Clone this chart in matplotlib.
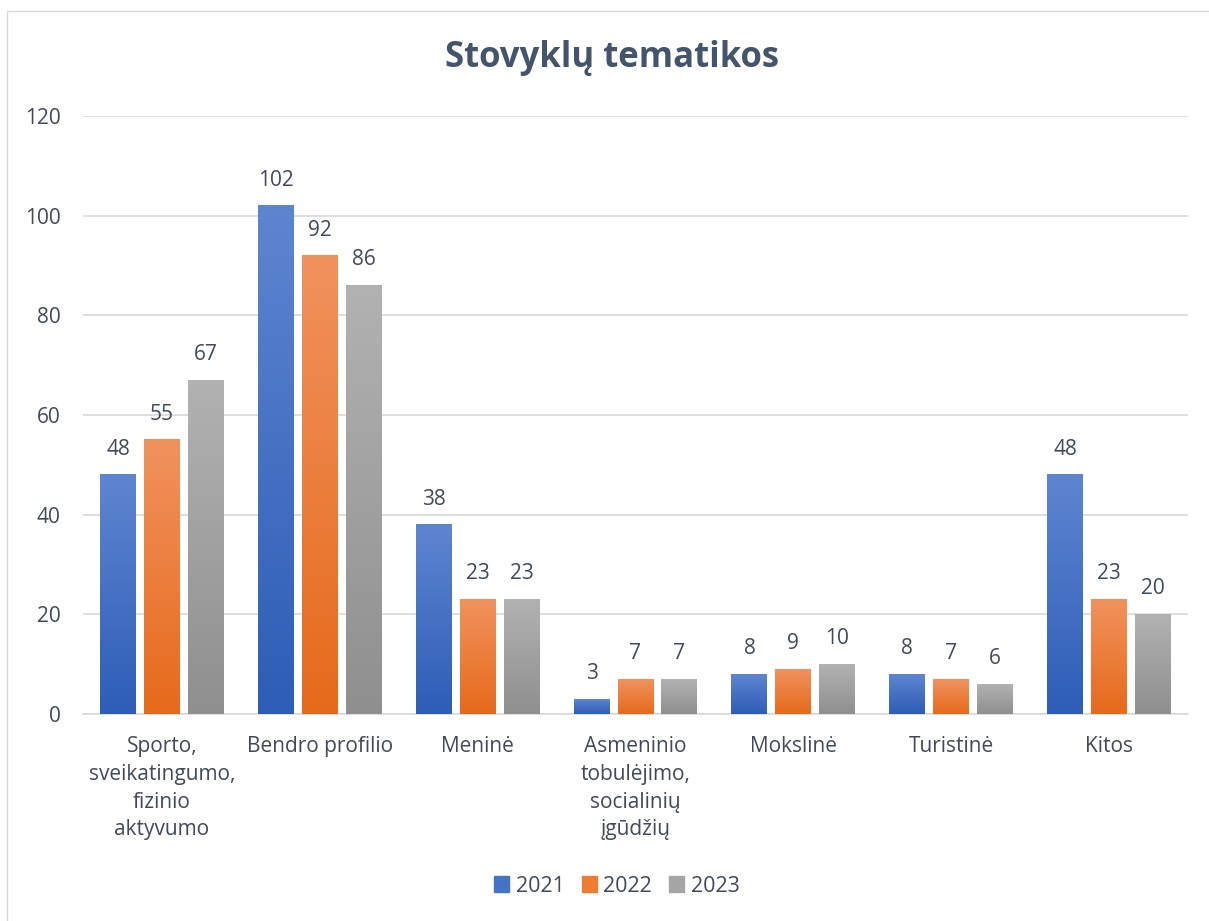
import numpy as np
import matplotlib
matplotlib.use("Agg")
import matplotlib.pyplot as plt
from matplotlib.colors import LinearSegmentedColormap
from matplotlib.patches import Rectangle

categories = ["Sporto,\nsveikatingumo,\nfizinio\naktyvumo", "Bendro profilio", "Meninė",
              "Asmeninio\ntobulėjimo,\nsocialinių\nįgūdžių", "Mokslinė", "Turistinė", "Kitos"]
years = ["2021", "2022", "2023"]
v2021 = [48, 102, 38, 3, 8, 8, 48]
v2022 = [55, 92, 23, 7, 9, 7, 23]
v2023 = [67, 86, 23, 7, 10, 6, 20]
series = [v2021, v2022, v2023]
yticks = [0, 20, 40, 60, 80, 100, 120]

tops = ["#5E85D0", "#F1925E", "#B2B2B2"]
bottoms = ["#2D5DB7", "#E66A1B", "#8F8F8F"]
mids = ["#4472C4", "#ED7D31", "#A5A5A5"]

plt.rcParams['font.family'] = ['Open Sans', 'DejaVu Sans']
fig = plt.figure(figsize=(12.09, 9.21), dpi=100)
ax = fig.add_axes([83/1209, 1-714/921, 1105/1209, (714-116)/921])

FS = 15
TC = "#404A5A"
x = np.arange(len(categories))
width = 0.228
offset = 0.278
for i, (vals, top, bot, mid) in enumerate(zip(series, tops, bottoms, mids)):
    bars = ax.bar(x + (i-1)*offset, vals, width, color="none", edgecolor="none", label=years[i], zorder=3)
    cmap = LinearSegmentedColormap.from_list("g%d" % i, [bot, top])
    grad = np.linspace(0, 1, 256).reshape(-1, 1)
    for b, v in zip(bars, vals):
        x0 = b.get_x(); w = b.get_width(); h = b.get_height()
        ax.imshow(grad, cmap=cmap, extent=[x0, x0+w, 0, h], origin="lower",
                  aspect="auto", zorder=3, interpolation="bicubic")
        ax.text(x0 + w/2, h + 3.0, str(v), ha="center", va="bottom", fontsize=FS,
                color=TC)

ax.set_xlim(-0.5, len(categories)-0.5)
ax.set_ylim(0, 120)
ax.set_yticks(yticks)
ax.set_yticklabels([str(t) for t in yticks], fontsize=FS, color=TC)
ax.set_xticks(x)
ax.set_xticklabels(categories, fontsize=FS, color=TC, linespacing=1.42)
ax.tick_params(axis="both", length=0)
ax.tick_params(axis="y", pad=16)
ax.tick_params(axis="x", pad=16)
for s in ["top", "right", "left"]:
    ax.spines[s].set_visible(False)
ax.spines["bottom"].set_color("#D9D9D9")
ax.spines["bottom"].set_linewidth(1.2)
ax.yaxis.grid(True, color="#D9D9D9", linewidth=1.2, zorder=0)
ax.set_axisbelow(True)

handles = [Rectangle((0, 0), 1, 1, color=c) for c in mids]
fig.legend(handles, years, loc="center", bbox_to_anchor=(617/1209, 1-886/921), ncol=3,
           frameon=False, fontsize=15.5, handlelength=0.7, handleheight=0.7,
           columnspacing=0.8, handletextpad=0.3, labelcolor=TC)

fig.text(612/1209, 1-58/921, "Stovyklų tematikos", ha="center", va="center",
         fontsize=25, fontweight="bold", color="#44546A")

fig.patches.append(Rectangle((7/1209, -0.02), 1.05, 1-11/921+0.02, transform=fig.transFigure,
                             fill=False, edgecolor="#D9D9D9", linewidth=1.0, zorder=0))

fig.savefig("out.png", dpi=100)
